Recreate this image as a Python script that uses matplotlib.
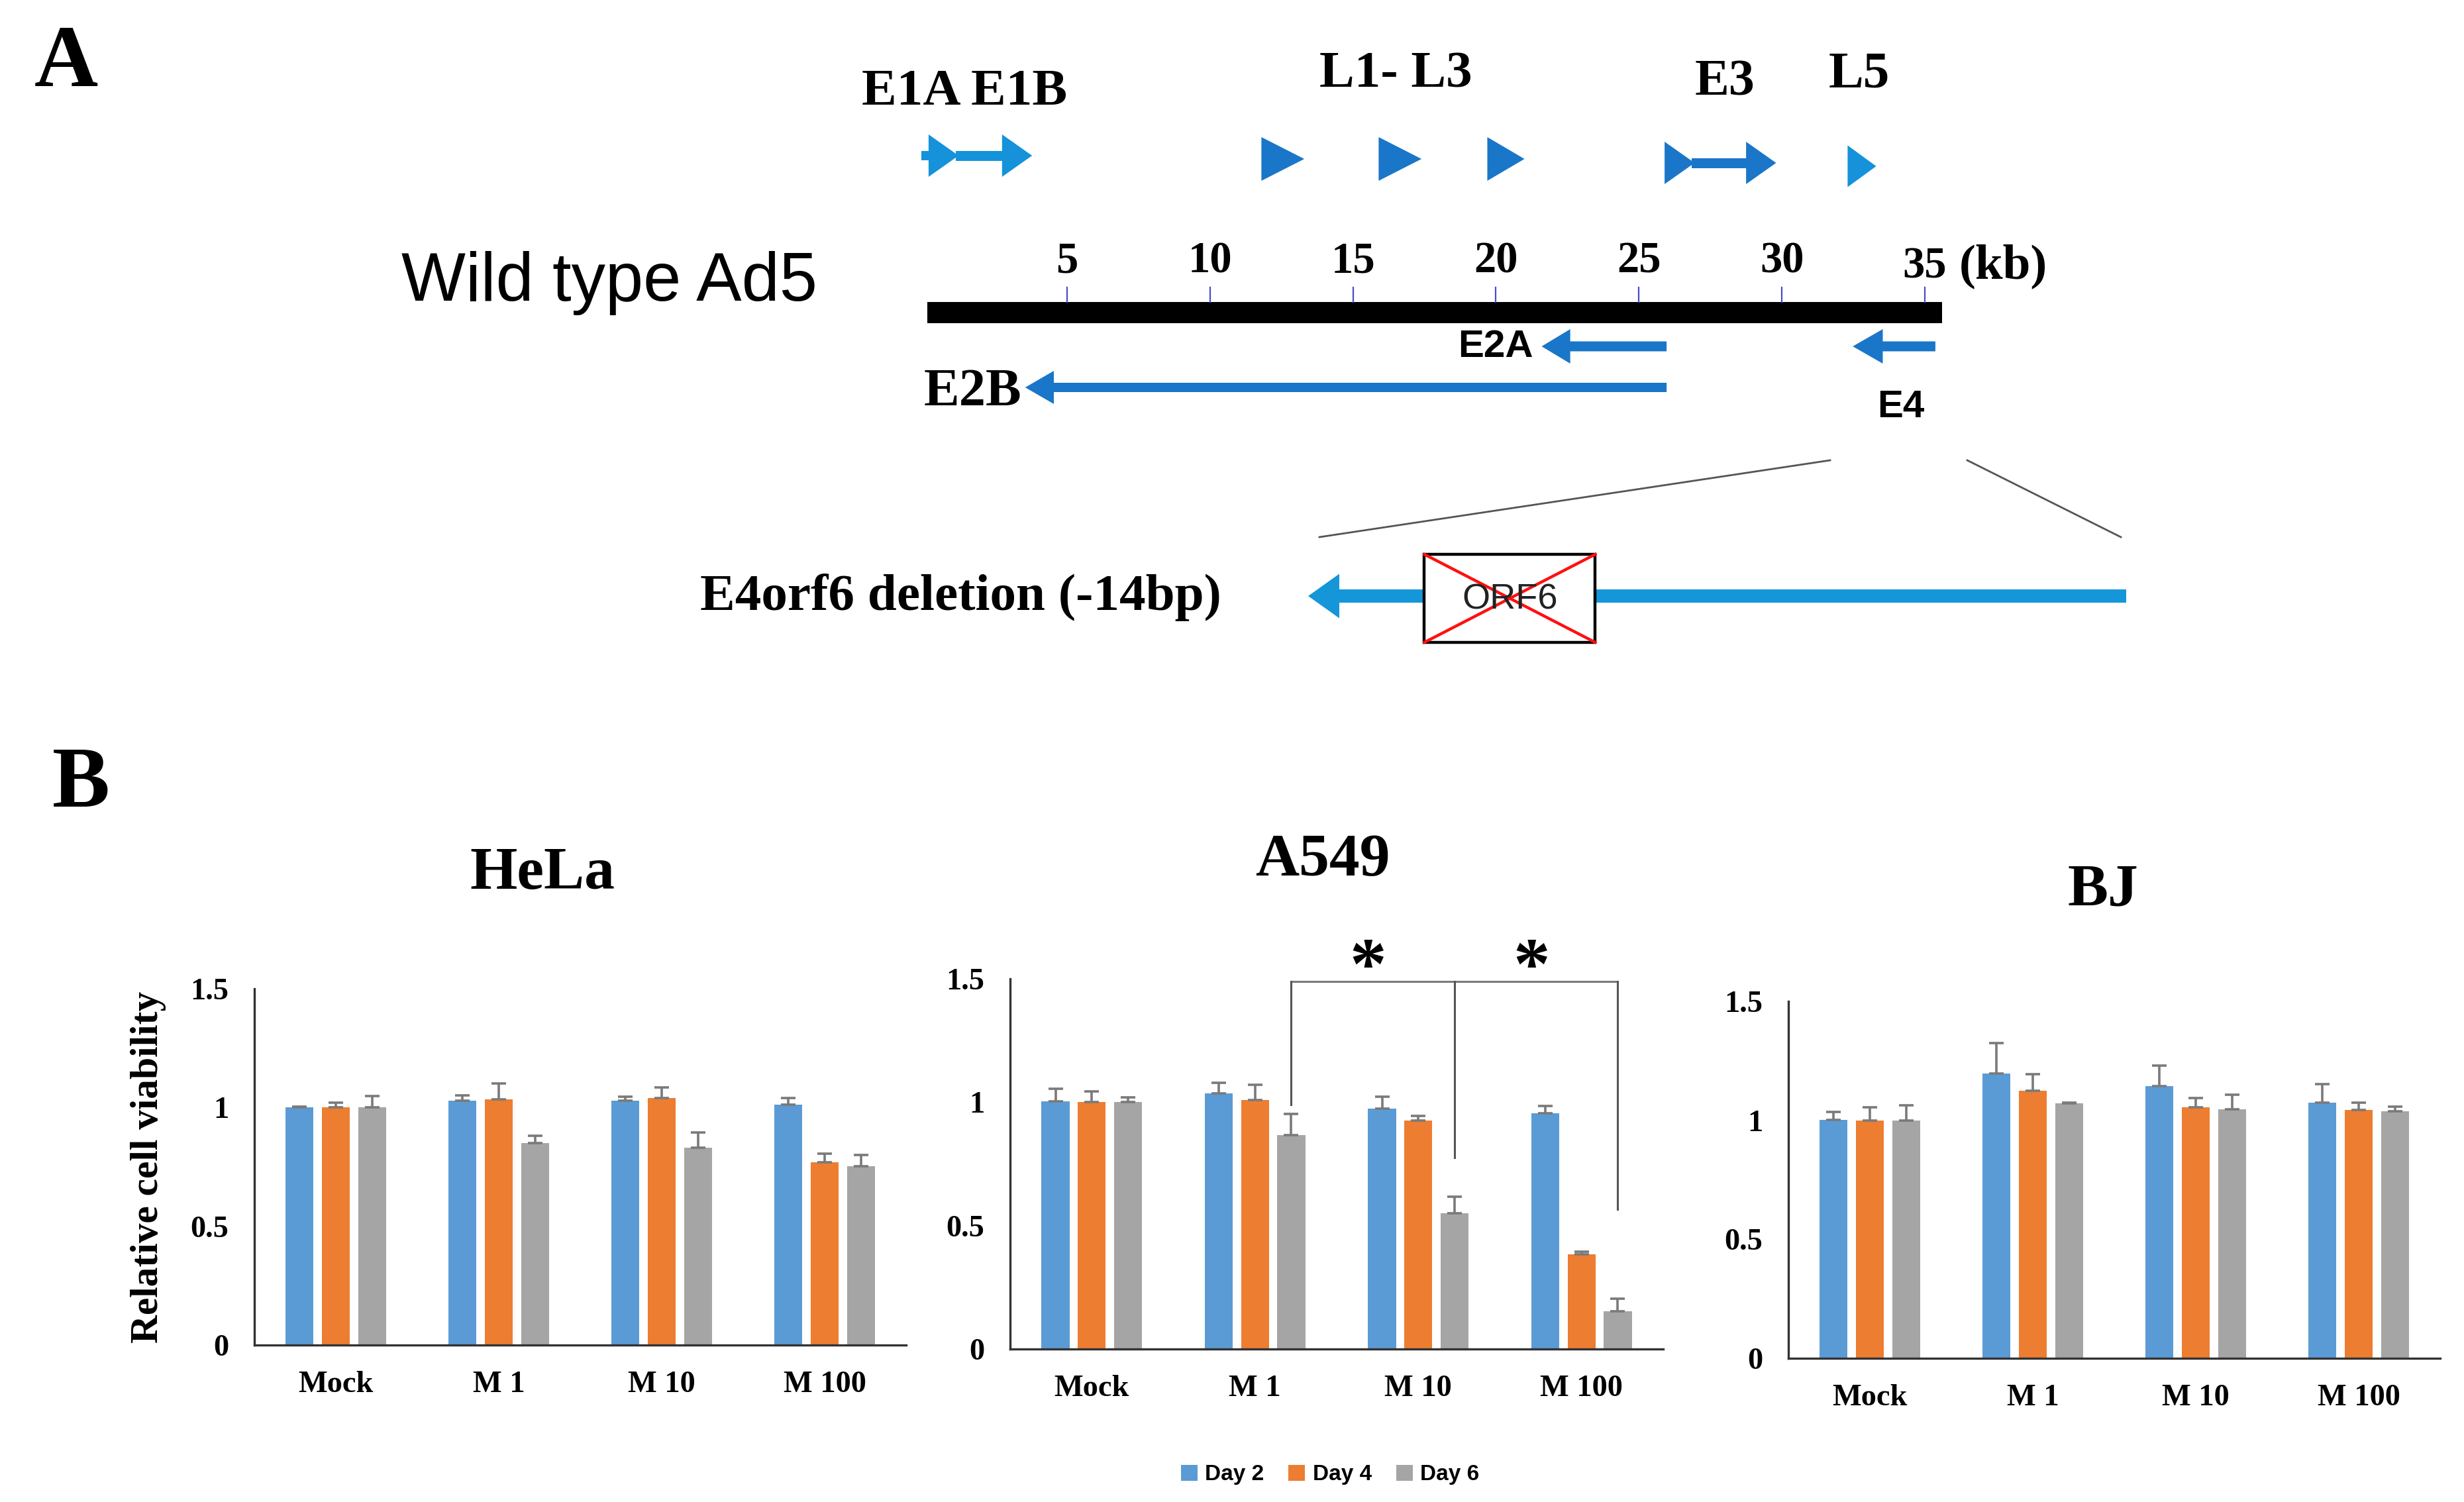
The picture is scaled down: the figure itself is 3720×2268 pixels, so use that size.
import matplotlib
matplotlib.use('Agg')
import matplotlib.pyplot as plt
from matplotlib.patches import Polygon, Rectangle, FancyArrow, Patch

W, H = 3720, 2268
DPI = 200
SERIF = ['Liberation Serif', 'DejaVu Serif']
SANS = ['Liberation Sans', 'DejaVu Sans']

# ---------------- data: panel A, Ad5 genome map (kb) ----------------
genome_length_kb = 35.6
kb_ticks = [5, 10, 15, 20, 25, 30, 35]
kb_tick_labels = ['5', '10', '15', '20', '25', '30', '35']
e1_span = (0.16, 3.78)          # E1A / E1B (rightward)
late_l1_l3 = [(11.8, 13.3), (15.9, 17.4), (19.7, 21.0)]
e3_span = (25.9, 29.8)
l5_span = (32.3, 33.3)
e2a_span = (25.97, 21.6)        # (tail, tip), leftward
e2b_span = (25.97, 3.54)
e4_span = (35.37, 32.48)
orf6_box = (0.142, 0.351)       # fraction along the expanded E4 region

# ---------------- data: panel B, cell viability ----------------
categories = ['Mock', 'M 1', 'M 10', 'M 100']
series_names = ['Day 2', 'Day 4', 'Day 6']
cell_lines = ['HeLa', 'A549', 'BJ']

hela_day2 = [1.00, 1.03, 1.03, 1.013]
hela_day4 = [1.00, 1.035, 1.04, 0.77]
hela_day6 = [1.00, 0.85, 0.83, 0.754]
hela_err2 = [0.003, 0.02, 0.015, 0.027]
hela_err4 = [0.02, 0.065, 0.045, 0.036]
hela_err6 = [0.048, 0.03, 0.066, 0.046]

a549_day2 = [1.003, 1.035, 0.975, 0.955]
a549_day4 = [1.00, 1.01, 0.925, 0.383]
a549_day6 = [1.00, 0.867, 0.551, 0.154]
a549_err2 = [0.052, 0.045, 0.048, 0.03]
a549_err4 = [0.045, 0.06, 0.02, 0.012]
a549_err6 = [0.02, 0.085, 0.066, 0.05]

bj_day2 = [1.003, 1.197, 1.143, 1.075]
bj_day4 = [1.00, 1.123, 1.054, 1.044]
bj_day6 = [1.00, 1.071, 1.046, 1.038]
bj_err2 = [0.033, 0.128, 0.087, 0.077]
bj_err4 = [0.054, 0.07, 0.041, 0.029]
bj_err6 = [0.062, 0.003, 0.062, 0.019]

sig_pairs = [(1, 2), (2, 3)]          # A549 Day 6 comparisons
sig_bracket_top = 1.49
sig_drop_ends = [0.99, 0.775, 0.566]
sig_star_y = 1.535

colors = ['#5B9BD5', '#ED7D31', '#A5A5A5']

# ---------------- figure ----------------
fig = plt.figure(figsize=(W / DPI, H / DPI), dpi=DPI)

def fx(x):
    return x / W

def fy(y):
    return 1 - y / H

# overlay axes in pixel coordinates (for layout only)
ov = fig.add_axes([0, 0, 1, 1])
ov.set_xlim(0, W)
ov.set_ylim(H, 0)
ov.axis('off')

# genome axes: x in kb, y in pixel rows
px_per_kb = 43.17
kb0_px = 1395
gm = fig.add_axes([0, 0, 1, 1])
gm.set_xlim(-kb0_px / px_per_kb, (W - kb0_px) / px_per_kb)
gm.set_ylim(H, 0)
gm.axis('off')
gm.patch.set_alpha(0)

dark_blue = '#1A76C8'
light_blue = '#1592DA'

def triangle(ax, s, e, yc, h, color):
    ax.add_patch(Polygon([(s, yc - h / 2), (s, yc + h / 2), (e, yc)],
                         closed=True, facecolor=color, edgecolor='none'))

def double_arrow(ax, span, yc, color, tri_kb=1.05, h=64, shaft=15):
    s, e = span
    triangle(ax, s, s + tri_kb, yc, h, color)
    ax.add_patch(Rectangle((s + tri_kb * 0.9, yc - shaft / 2),
                           (e - tri_kb) - (s + tri_kb * 0.9) + 0.05, shaft,
                           facecolor=color, edgecolor='none'))
    triangle(ax, e - tri_kb, e, yc, h, color)

# E1A/E1B
double_arrow(gm, e1_span, 235, light_blue)
gm.add_patch(Rectangle((e1_span[0] - 0.25, 235 - 7), 0.45, 14,
                       facecolor=light_blue, edgecolor='none'))
# L1-L3 promoters
for s, e in late_l1_l3:
    triangle(gm, s, e, 240, 66, dark_blue)
# E3
double_arrow(gm, e3_span, 246, dark_blue)
# L5
triangle(gm, l5_span[0], l5_span[1], 251, 63, light_blue)

# genome bar
gm.plot([0.12, genome_length_kb], [472, 472], color='black', lw=11.5,
        solid_capstyle='butt')
for k, lab in zip(kb_ticks, kb_tick_labels):
    gm.plot([k, k], [434, 456], color='#4a4ad0', lw=0.8)
    gm.text(k, 395 if k != 35 else 403, lab, ha='center', va='center',
            family=SERIF, fontweight='bold', fontsize=24)
gm.text(37.75, 402, '(kb)', ha='center', va='center', family=SERIF,
        fontweight='bold', fontsize=27)

# leftward units
def left_arrow(ax, span, yc, shaft, head_h, head_kb):
    tail, tip = span
    ax.add_patch(FancyArrow(tail, yc, tip - tail, 0, width=shaft,
                            head_width=head_h, head_length=head_kb,
                            length_includes_head=True, color=dark_blue,
                            lw=0))

left_arrow(gm, e2a_span, 523, 15, 52, 1.0)
left_arrow(gm, e4_span, 523, 15, 52, 1.05)
left_arrow(gm, e2b_span, 585, 14, 50, 1.0)

# labels panel A
ov.text(100, 98, 'A', ha='center', va='center', family=SERIF,
        fontweight='bold', fontsize=48)
ov.text(1456, 140, 'E1A E1B', ha='center', va='center', family=SERIF,
        fontweight='bold', fontsize=28.5)
ov.text(2107, 113, 'L1- L3', ha='center', va='center', family=SERIF,
        fontweight='bold', fontsize=28.5)
ov.text(2604, 125, 'E3', ha='center', va='center', family=SERIF,
        fontweight='bold', fontsize=28)
ov.text(2807, 113, 'L5', ha='center', va='center', family=SERIF,
        fontweight='bold', fontsize=28.5)
ov.text(920, 427, 'Wild type Ad5', ha='center', va='center', family=SANS,
        fontsize=37)
ov.text(2258, 524, 'E2A', ha='center', va='center', family=SANS,
        fontweight='bold', fontsize=21)
ov.text(2870, 615, 'E4', ha='center', va='center', family=SANS,
        fontweight='bold', fontsize=21)
ov.text(1468, 593, 'E2B', ha='center', va='center', family=SERIF,
        fontweight='bold', fontsize=29)
ov.text(1450, 902, 'E4orf6 deletion (-14bp)', ha='center', va='center',
        family=SERIF, fontweight='bold', fontsize=28.5)

# zoom lines
ov.plot([2763, 1992], [695, 811], color='#555555', lw=1.0)
ov.plot([2970, 3202], [695, 811], color='#555555', lw=1.0)

# expanded E4 region: x in fraction of the E4 unit
ex = fig.add_axes([fx(1975), fy(1000), (3210 - 1975) / W, 200 / H])
ex.set_xlim(0, 1)
ex.set_ylim(1000, 800)
ex.axis('off')
ex.patch.set_alpha(0)
ex.add_patch(FancyArrow(1.0, 900, -1.0, 0, width=20, head_width=67,
                        head_length=47 / 1235, length_includes_head=True,
                        color='#1596D8', lw=0))
ex.add_patch(Rectangle((orf6_box[0], 837), orf6_box[1] - orf6_box[0], 133,
                       facecolor='white', edgecolor='black', lw=1.6))
ex.text((orf6_box[0] + orf6_box[1]) / 2, 906, 'ORF6', ha='center',
        va='center', family=SANS, fontsize=19.5, color='#222222')
ex.plot([orf6_box[0], orf6_box[1]], [837, 970], color='#FF1010', lw=1.6)
ex.plot([orf6_box[0], orf6_box[1]], [970, 837], color='#FF1010', lw=1.6)

# ---------------- panel B ----------------
ov.text(122, 1186, 'B', ha='center', va='center', family=SERIF,
        fontweight='bold', fontsize=47)

# (axes box in px: left, right, bottom, top) and title position
panels = [
    ((384, 1368, 2031, 1493), (819, 1320),
     [hela_day2, hela_day4, hela_day6], [hela_err2, hela_err4, hela_err6]),
    ((1525, 2511, 2037, 1478), (1997, 1300),
     [a549_day2, a549_day4, a549_day6], [a549_err2, a549_err4, a549_err6]),
    ((2700, 3684, 2051, 1512), (3175, 1346),
     [bj_day2, bj_day4, bj_day6], [bj_err2, bj_err4, bj_err6]),
]

offsets = [-0.222, 0.0, 0.222]
bar_w = 0.171
axes = []
for name, ((x0, x1, yb, yt), (tx, ty), vals, errs) in zip(cell_lines, panels):
    ax = fig.add_axes([fx(x0), fy(yb), (x1 - x0) / W, (yb - yt) / H])
    axes.append(ax)
    xs = list(range(len(categories)))
    for k in range(3):
        ax.bar([x + offsets[k] for x in xs], vals[k], width=bar_w,
               color=colors[k], zorder=2)
        ax.errorbar([x + offsets[k] for x in xs], vals[k],
                    yerr=[[0] * len(xs), errs[k]], fmt='none',
                    ecolor='#7a7a7a', elinewidth=1.3, capsize=4,
                    capthick=1.3, zorder=3)
    ax.set_xlim(-0.5, len(categories) - 0.5)
    ax.set_ylim(0, 1.5)
    ax.set_yticks([0, 0.5, 1, 1.5])
    ax.set_yticklabels(['0', '0.5', '1', '1.5'])
    ax.set_xticks(xs)
    ax.set_xticklabels(categories)
    for lab in ax.get_xticklabels() + ax.get_yticklabels():
        lab.set_family(SERIF)
        lab.set_fontweight('bold')
        lab.set_fontsize(16.7)
    ax.tick_params(length=0, pad=14)
    for sp in ['top', 'right']:
        ax.spines[sp].set_visible(False)
    for sp in ['left', 'bottom']:
        ax.spines[sp].set_color('#333333')
        ax.spines[sp].set_linewidth(1.2)
    ov.text(tx, ty, name, ha='center', va='center', family=SERIF,
            fontweight='bold', fontsize=33)

axes[0].set_ylabel('Relative cell viability', family=SERIF,
                   fontweight='bold', fontsize=21.4)
axes[0].yaxis.set_label_coords(-0.135, 0.5)

# significance brackets on A549
a2 = axes[1]
xg = [i + offsets[2] for i in range(len(categories))]
i_all = sorted(set([p for pair in sig_pairs for p in pair]))
a2.plot([xg[i_all[0]], xg[i_all[-1]]], [sig_bracket_top] * 2,
        color='#7a7a7a', lw=1.1, clip_on=False)
for i, yend in zip(i_all, sig_drop_ends):
    a2.plot([xg[i], xg[i]], [sig_bracket_top, yend], color='#555555',
            lw=1.1, clip_on=False)
for a, b in sig_pairs:
    a2.text((xg[a] + xg[b]) / 2 - 0.03, sig_star_y, '*', ha='center',
            va='center', family=SERIF, fontweight='bold', fontsize=40,
            clip_on=False)

# legend
handles = [Patch(facecolor=c, edgecolor='none') for c in colors]
leg = fig.legend(handles, series_names, loc='center', ncol=3,
                 bbox_to_anchor=(fx(2008), fy(2227)), frameon=False,
                 handlelength=0.75, handleheight=0.75, handletextpad=0.35,
                 columnspacing=1.1, prop={'family': SANS, 'weight': 'bold',
                                          'size': 12})

fig.savefig('out.png', dpi=DPI, facecolor='white')
